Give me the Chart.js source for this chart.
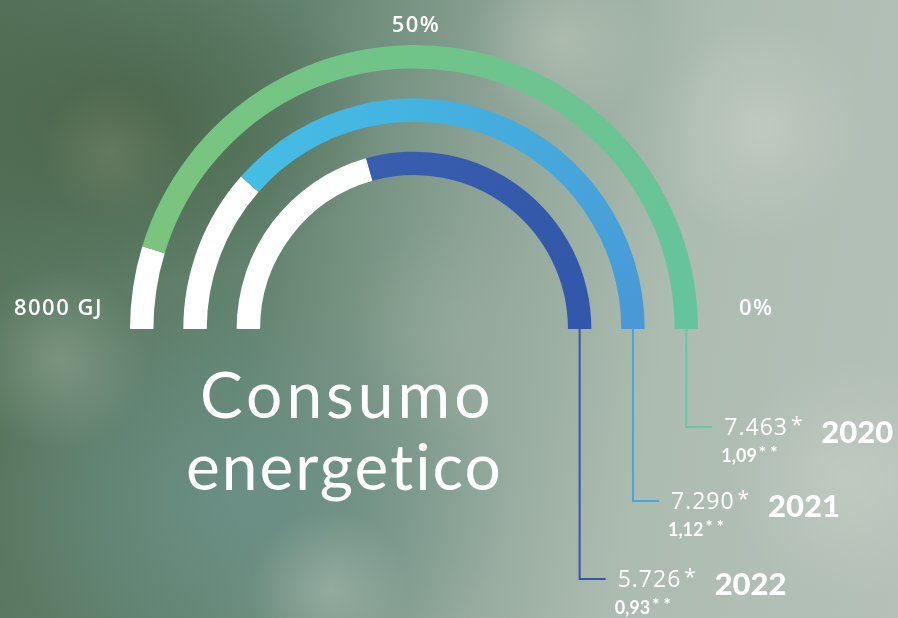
<!DOCTYPE html>
<html lang="it">
<head>
<meta charset="utf-8">
<title>Consumo energetico</title>
<script src="https://cdn.jsdelivr.net/npm/chart.js@4/dist/chart.umd.min.js"></script>
<style>
  html, body { margin: 0; padding: 0; }
  body {
    width: 898px; height: 618px; overflow: hidden; position: relative;
    background:
      radial-gradient(circle at 110px 150px, rgba(150,160,130,0.3) 0, rgba(150,160,130,0) 70px),
      radial-gradient(circle at 60px 360px, rgba(170,185,170,0.4) 0, rgba(170,185,170,0) 90px),
      radial-gradient(circle at 330px 590px, rgba(185,198,188,0.45) 0, rgba(185,198,188,0) 80px),
      radial-gradient(circle at 560px 40px, rgba(200,208,195,0.45) 0, rgba(200,208,195,0) 90px),
      radial-gradient(circle at 760px 130px, rgba(205,212,202,0.5) 0, rgba(205,212,202,0) 110px),
      radial-gradient(circle at 850px 480px, rgba(205,212,202,0.5) 0, rgba(205,212,202,0) 120px),
      radial-gradient(circle at 460px 330px, rgba(160,180,165,0.35) 0, rgba(160,180,165,0) 110px),
      radial-gradient(ellipse at 120px 120px, #4b654b 0, rgba(75,101,75,0) 260px),
      radial-gradient(ellipse at 250px 500px, #6b8f86 0, rgba(107,143,134,0) 260px),
      linear-gradient(100deg, #55735a 0%, #62836f 30%, #8ea497 52%, #adbcb1 72%, #b4c0b8 100%);
  }
  #wrap { position: absolute; left: 0; top: 0; width: 898px; height: 618px; }
  .title {
    position: absolute; color: #fff; font-family: Lato, sans-serif; font-weight: 400;
    font-size: 64px; line-height: 64px; white-space: nowrap;
  }
</style>
</head>
<body>
<div id="wrap"><canvas id="gauge" width="898" height="618"></canvas></div>
<div class="title" style="left:200px; top:362px; letter-spacing:4px;">Consumo</div>
<div class="title" style="left:186px; top:434px; letter-spacing:2px;">energetico</div>
<script>
  // data
  const years = ['2020', '2021', '2022'];
  const energyGJ = [7463, 7290, 5726];
  const intensity = [1.09, 1.12, 0.93];
  // share of each half ring that is coloured, as drawn in the picture (%)
  const arcShare = [90.6, 77.0, 58.7];
  const scaleMax = 100;
  const scaleLabels = ['8000 GJ', '50%', '0%'];

  // gradient stops per ring: left, top, right
  const ringColors = [
    ['#7dc57a', '#70c489', '#65c39e'],
    ['#45c7e9', '#44b3e0', '#4898d6'],
    ['#3c60b2', '#385cae', '#3057a9']
  ];
  const leaderColors = ['#62c9a4', '#46a6dc', '#3557aa'];
  const leaderY = [427, 501, 579];

  function fmtThousands(v) {
    const s = String(v);
    return s.length > 3 ? s.slice(0, s.length - 3) + '.' + s.slice(-3) : s;
  }
  function fmtDec(v) {
    return v.toFixed(2).replace('.', ',');
  }

  function ringFill(i) {
    return function (c) {
      if (c.dataIndex === 0) return '#ffffff';
      const area = c.chart.chartArea;
      if (!area) return ringColors[i][1];
      const cx = (area.left + area.right) / 2;
      const cy = area.bottom;
      const g = c.chart.ctx.createConicGradient(Math.PI, cx, cy);
      g.addColorStop(0, ringColors[i][0]);
      g.addColorStop(0.25, ringColors[i][1]);
      g.addColorStop(0.5, ringColors[i][2]);
      g.addColorStop(1, ringColors[i][0]);
      return g;
    };
  }

  const datasets = [];
  arcShare.forEach(function (v, i) {
    if (i > 0) {
      datasets.push({ data: [1], backgroundColor: 'rgba(0,0,0,0)', borderWidth: 0, weight: 30, spacer: true });
    }
    datasets.push({
      label: years[i],
      data: [scaleMax - v, v],
      backgroundColor: ringFill(i),
      borderWidth: 0,
      weight: 23.5
    });
  });

  const labelsPlugin = {
    id: 'gaugeLabels',
    afterDraw: function (chart) {
      const ctx = chart.ctx;
      const area = chart.chartArea;
      const cx = (area.left + area.right) / 2;
      const cy = area.bottom;
      ctx.save();
      ctx.fillStyle = '#ffffff';
      ctx.textBaseline = 'alphabetic';

      // scale labels
      ctx.font = '600 22px "Open Sans"';
      ctx.letterSpacing = '1.5px';
      ctx.textAlign = 'right';
      ctx.fillText(scaleLabels[0], area.left - 27, cy - 14);
      ctx.textAlign = 'center';
      ctx.fillText(scaleLabels[1], cx + 2, area.top - 13);
      ctx.textAlign = 'left';
      ctx.fillText(scaleLabels[2], area.right + 41, cy - 14);
      ctx.letterSpacing = '0px';

      // leader lines + value labels
      let ring = 0;
      chart.data.datasets.forEach(function (ds, di) {
        if (ds.spacer) return;
        const arc = chart.getDatasetMeta(di).data[1];
        const mid = (arc.innerRadius + arc.outerRadius) / 2;
        const x0 = arc.x + mid;
        const y1 = leaderY[ring];
        ctx.strokeStyle = leaderColors[ring];
        ctx.lineWidth = 2;
        ctx.beginPath();
        ctx.moveTo(x0, cy);
        ctx.lineTo(x0, y1);
        ctx.lineTo(x0 + 26, y1);
        ctx.stroke();

        const tx = x0 + 38;
        ctx.fillStyle = '#ffffff';
        ctx.textAlign = 'left';
        ctx.font = '400 23px "Open Sans"';
        ctx.letterSpacing = '1px';
        const main = fmtThousands(energyGJ[ring]);
        ctx.fillText(main, tx, y1 + 8);
        let w = ctx.measureText(main).width;
        ctx.letterSpacing = '0px';
        ctx.font = '400 21px "Open Sans"';
        ctx.fillText('*', tx + w + 3, y1 + 5);

        ctx.font = 'bold 18px Lato';
        const sub = fmtDec(intensity[ring]);
        ctx.fillText(sub, tx - 3, y1 + 35);
        w = ctx.measureText(sub).width;
        ctx.font = 'bold 17px Lato';
        ctx.fillText('* *', tx - 3 + w + 2, y1 + 32);

        ctx.font = '900 31px Lato';
        ctx.fillText(years[ring], x0 + 135, y1 + 16);
        ring++;
      });
      ctx.restore();
    }
  };

  new Chart(document.getElementById('gauge'), {
    type: 'doughnut',
    data: { labels: ['resto', 'consumo'], datasets: datasets },
    options: {
      responsive: false,
      animation: false,
      rotation: -90,
      circumference: 180,
      cutout: '54.2%',
      layout: { padding: { left: 130, right: 200, top: 45, bottom: 289 } },
      events: [],
      plugins: {
        legend: { display: false },
        tooltip: { enabled: false }
      }
    },
    plugins: [labelsPlugin]
  });
</script>
</body>
</html>
